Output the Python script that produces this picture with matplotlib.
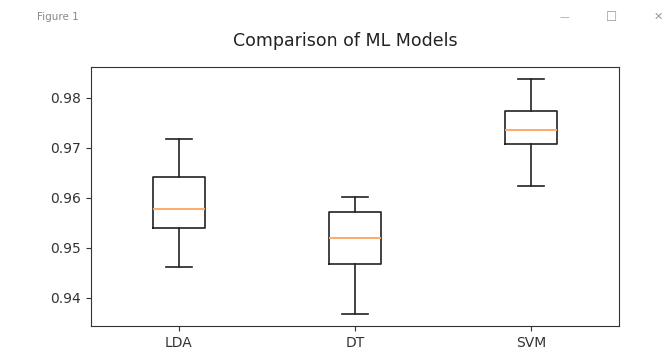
import matplotlib
matplotlib.use("Agg")
import matplotlib.pyplot as plt

# model names and box-plot statistics
models = ["LDA", "DT", "SVM"]
whisker_low = [0.9461, 0.9367, 0.9624]
q1 = [0.9539, 0.9467, 0.9707]
medians = [0.9578, 0.9519, 0.9735]
q3 = [0.9642, 0.9572, 0.9774]
whisker_high = [0.9717, 0.9602, 0.9837]

stats = []
for name, lo, a, m, b, hi in zip(models, whisker_low, q1, medians, q3, whisker_high):
    stats.append({"label": name, "whislo": lo, "q1": a, "med": m,
                  "q3": b, "whishi": hi, "fliers": []})

fig = plt.figure(figsize=(6.65, 3.59), dpi=100)
ax = fig.add_axes([0.1368, 0.0919, 0.794, 0.7215])

line = {"color": "#222222", "linewidth": 1.2}
ax.bxp(stats, showfliers=False,
       boxprops=line, whiskerprops=line, capprops=line,
       medianprops={"color": "#ffaa66", "linewidth": 1.4})
ax.set_ylim(0.93434, 0.98614)
ax.set_yticks([0.94, 0.95, 0.96, 0.97, 0.98])
ax.tick_params(labelsize=10, colors="#333333")
for s in ax.spines.values():
    s.set_color("#333333")
# title sits a little left of the axes centre in the screenshot
ax.set_title("Comparison of ML Models", fontsize=12.5, pad=15, color="#222222", x=0.481)

# window title bar of the screenshot
fig.text(0.055, 0.952, "Figure 1", fontsize=7.5, color="#888888", va="center")
fig.text(0.848, 0.952, "\u2014", fontsize=7, color="#aaaaaa", va="center", ha="center")
fig.text(0.92, 0.952, "\u2610", fontsize=9, color="#999999", va="center", ha="center")
fig.text(0.99, 0.952, "\u2715", fontsize=8, color="#999999", va="center", ha="center")

fig.savefig("out.png", dpi=100)
